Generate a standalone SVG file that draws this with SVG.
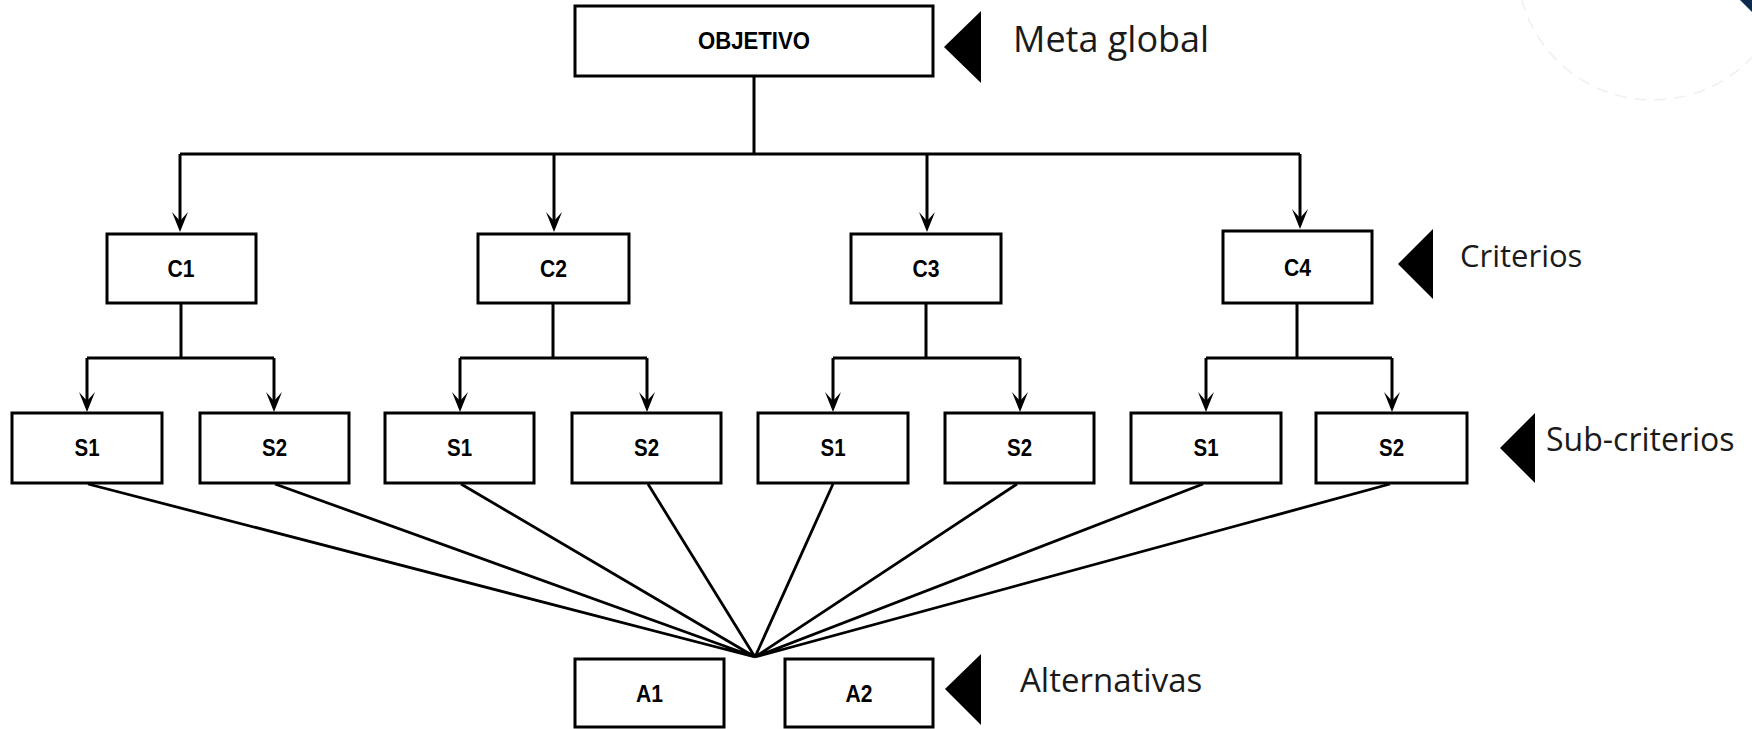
<svg xmlns="http://www.w3.org/2000/svg" width="1752" height="729" viewBox="0 0 1752 729">
<style>
.box{fill:#fff;stroke:#000;stroke-width:3}
.lbl{font-family:"Liberation Sans",Arial,sans-serif;font-weight:bold;font-size:23px;text-anchor:middle;fill:#000}
.ann{font-family:"Open Sans","Noto Sans",sans-serif;fill:#1a1a1a}
.ln{fill:none;stroke:#000;stroke-width:3}
.fan{fill:none;stroke:#000;stroke-width:2.8}
.tri{fill:#000}
</style>
<defs>
<marker id="arr" markerUnits="userSpaceOnUse" markerWidth="24" markerHeight="20" viewBox="-22 -10 24 20" refX="-10" refY="0" orient="auto">
<path d="M0,0 L-20,-8 L-11,0 L-20,8 Z" fill="#000"/>
</marker>
</defs>
<rect width="1752" height="729" fill="#fff"/>
<circle cx="1653" cy="-36" r="136" fill="none" stroke="#efefef" stroke-width="1.5" stroke-dasharray="12 8"/>
<polygon points="1740,0 1752,0 1752,12" fill="#0d2a4e"/>

<g id="connectors">
<path class="ln" d="M754,76 V154 M180,154 H1300"/>
<path class="ln" d="M180,154 V222" marker-end="url(#arr)"/>
<path class="ln" d="M554,154 V222" marker-end="url(#arr)"/>
<path class="ln" d="M927,154 V222" marker-end="url(#arr)"/>
<path class="ln" d="M1300,154 V219" marker-end="url(#arr)"/>
<path class="ln" d="M181,303 V358 M87,358 H274 M553,303 V358 M460,358 H647 M926,303 V358 M833,358 H1020 M1297,303 V358 M1206,358 H1392"/>
<path class="ln" d="M87,358 V402" marker-end="url(#arr)"/>
<path class="ln" d="M274,358 V402" marker-end="url(#arr)"/>
<path class="ln" d="M460,358 V402" marker-end="url(#arr)"/>
<path class="ln" d="M647,358 V402" marker-end="url(#arr)"/>
<path class="ln" d="M833,358 V402" marker-end="url(#arr)"/>
<path class="ln" d="M1020,358 V402" marker-end="url(#arr)"/>
<path class="ln" d="M1206,358 V402" marker-end="url(#arr)"/>
<path class="ln" d="M1392,358 V402" marker-end="url(#arr)"/>
<path class="fan" d="M88,484 L755,657 M275,484 L755,657 M461,484 L755,657 M648,484 L755,657 M833,484 L755,657 M1017,484 L755,657 M1203,484 L755,657 M1390,484 L755,657"/>
</g>

<g id="objetivo"><rect class="box" x="575" y="6" width="358" height="70"/><text class="lbl" x="754" y="48.5" textLength="112" lengthAdjust="spacingAndGlyphs">OBJETIVO</text></g>
<g id="c1"><rect class="box" x="107" y="234" width="149" height="69"/><text class="lbl" x="181" y="277" textLength="27" lengthAdjust="spacingAndGlyphs">C1</text></g>
<g id="c2"><rect class="box" x="478" y="234" width="151" height="69"/><text class="lbl" x="553.5" y="277" textLength="27" lengthAdjust="spacingAndGlyphs">C2</text></g>
<g id="c3"><rect class="box" x="851" y="234" width="150" height="69"/><text class="lbl" x="926" y="277" textLength="27" lengthAdjust="spacingAndGlyphs">C3</text></g>
<g id="c4"><rect class="box" x="1223" y="231" width="149" height="72"/><text class="lbl" x="1297.5" y="276" textLength="27" lengthAdjust="spacingAndGlyphs">C4</text></g>

<g id="s1a"><rect class="box" x="12" y="413" width="150" height="70"/><text class="lbl" x="87" y="456" textLength="25" lengthAdjust="spacingAndGlyphs">S1</text></g>
<g id="s2a"><rect class="box" x="200" y="413" width="149" height="70"/><text class="lbl" x="274.5" y="456" textLength="25" lengthAdjust="spacingAndGlyphs">S2</text></g>
<g id="s1b"><rect class="box" x="385" y="413" width="149" height="70"/><text class="lbl" x="459.5" y="456" textLength="25" lengthAdjust="spacingAndGlyphs">S1</text></g>
<g id="s2b"><rect class="box" x="572" y="413" width="149" height="70"/><text class="lbl" x="646.5" y="456" textLength="25" lengthAdjust="spacingAndGlyphs">S2</text></g>
<g id="s1c"><rect class="box" x="758" y="413" width="150" height="70"/><text class="lbl" x="833" y="456" textLength="25" lengthAdjust="spacingAndGlyphs">S1</text></g>
<g id="s2c"><rect class="box" x="945" y="413" width="149" height="70"/><text class="lbl" x="1019.5" y="456" textLength="25" lengthAdjust="spacingAndGlyphs">S2</text></g>
<g id="s1d"><rect class="box" x="1131" y="413" width="150" height="70"/><text class="lbl" x="1206" y="456" textLength="25" lengthAdjust="spacingAndGlyphs">S1</text></g>
<g id="s2d"><rect class="box" x="1316" y="413" width="151" height="70"/><text class="lbl" x="1391.5" y="456" textLength="25" lengthAdjust="spacingAndGlyphs">S2</text></g>

<g id="a1"><rect class="box" x="575" y="659" width="149" height="68"/><text class="lbl" x="649.5" y="702" textLength="27" lengthAdjust="spacingAndGlyphs">A1</text></g>
<g id="a2"><rect class="box" x="785" y="659" width="148" height="68"/><text class="lbl" x="859" y="702" textLength="27" lengthAdjust="spacingAndGlyphs">A2</text></g>

<g id="meta-global"><polygon class="tri" points="944,47 981,11 981,83"/><text class="ann" x="1013" y="52" font-size="36">Meta global</text></g>
<g id="criterios"><polygon class="tri" points="1398,264 1433,229 1433,299"/><text class="ann" x="1460" y="267" font-size="31">Criterios</text></g>
<g id="sub-criterios"><polygon class="tri" points="1500,448 1535,413 1535,483"/><text class="ann" x="1546" y="451" font-size="32">Sub-criterios</text></g>
<g id="alternativas"><polygon class="tri" points="945,689 981,654 981,725"/><text class="ann" x="1020" y="692" font-size="33">Alternativas</text></g>
</svg>
